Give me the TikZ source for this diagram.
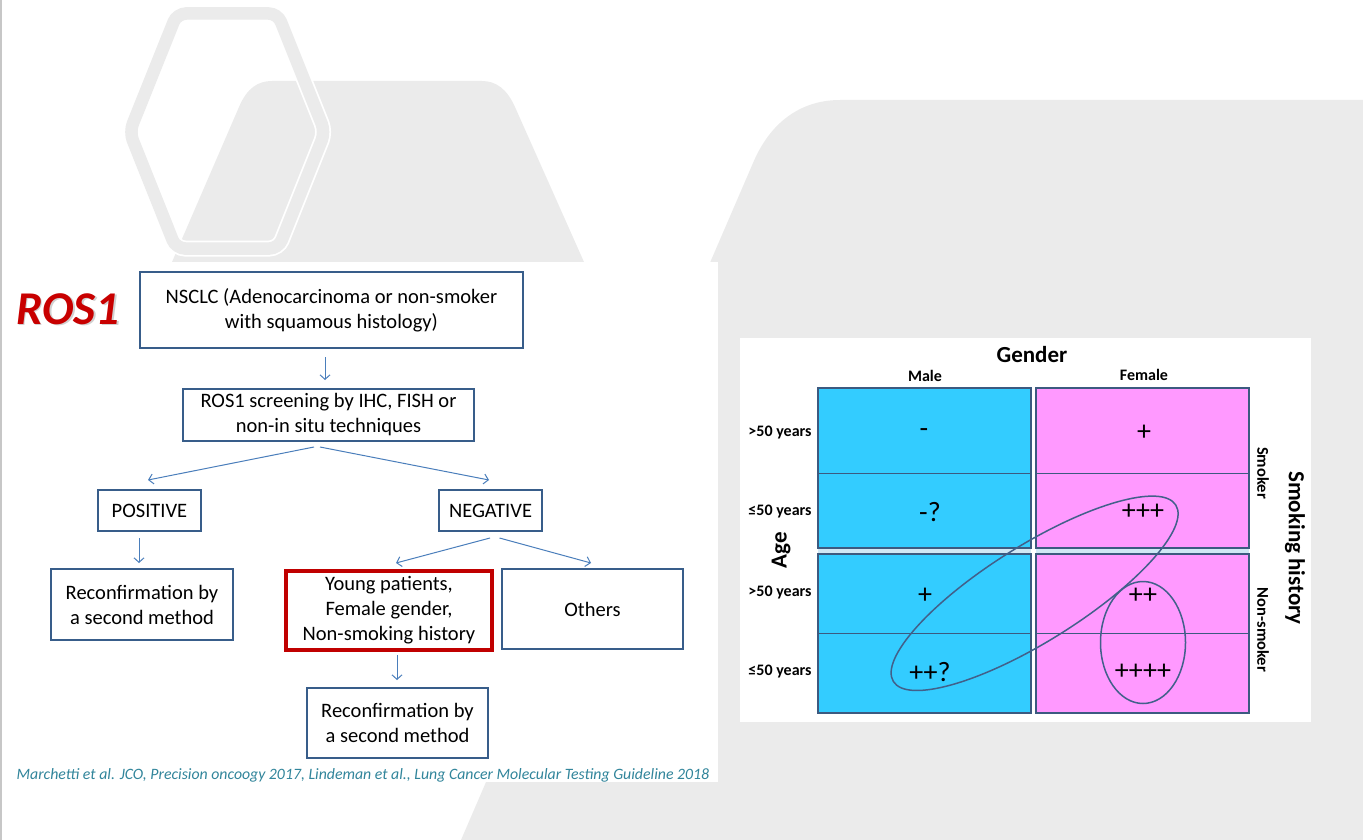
\documentclass[tikz,border=0pt]{standalone}
\usepackage{fontspec}
\setmainfont{Carlito}
\usetikzlibrary{arrows.meta,positioning}
\definecolor{boxblue}{RGB}{56,93,138}
\definecolor{arrowblue}{RGB}{74,126,187}
\definecolor{rosred}{RGB}{200,0,0}
\definecolor{darkred}{RGB}{192,0,0}
\definecolor{citeteal}{RGB}{49,133,155}
\definecolor{bggray}{RGB}{235,235,235}
\definecolor{malecyan}{RGB}{51,204,255}
\definecolor{femalepink}{RGB}{255,153,255}
\definecolor{gapblue}{RGB}{208,232,245}
\definecolor{cellline}{RGB}{60,90,128}
\definecolor{loopline}{RGB}{66,96,138}
\tikzset{
  box/.style={draw=boxblue, line width=2, fill=white, align=center, inner sep=0pt,
    font=\fontsize{20.5}{25}\selectfont},
  arr/.style={arrowblue, line width=1, -{Straight Barb[length=4.5pt,width=10pt]}},
  rowlab/.style={font=\fontsize{16}{16}\selectfont\bfseries},
  headlab/.style={font=\fontsize{23}{23}\selectfont\bfseries},
  celltxt/.style={font=\fontsize{28}{28}\selectfont},
  loop/.style={loopline, line width=1.5}
}

\begin{document}
\begin{tikzpicture}[x=1pt,y=-1pt]
      \useasboundingbox (0,0) rectangle (1363,840);
      % background
      \fill[bggray] (461,840) -- (753,163) .. controls (772,118) and (805,100) .. (840,100)
        -- (1363,100) -- (1363,840) -- cycle;
      \fill[bggray] (172,262) -- (239,107) .. controls (247,88) and (258,81) .. (272,81)
        -- (482,81) .. controls (496,81) and (507,89) .. (515,107) -- (584,262) -- cycle;
      \draw[white, line width=16, rounded corners=9] (177,13.5) -- (277.6,13.5) -- (325,132)
        -- (278.4,248.5) -- (176,248.5) -- (129.5,132) -- cycle;
      \draw[bggray, line width=12.5, rounded corners=9] (177,13.5) -- (277.6,13.5) -- (325,132)
        -- (278.4,248.5) -- (176,248.5) -- (129.5,132) -- cycle;
      \fill[white] (2,262) rectangle (718,782);
      \fill[white] (740,338) rectangle (1311,722);
      \draw[black!22, line width=1.5] (1,0) -- (1,840);

      % flowchart
      \node[text=black!18, font=\fontsize{47}{47}\selectfont\bfseries\itshape] (rosshadow) at (69.5,310.5) {ROS1};
      \node[text=rosred, font=\fontsize{47}{47}\selectfont\bfseries\itshape] (ros) at (68,309) {ROS1};
      \node[box, minimum width=383, minimum height=76] (nsclc) at (331.5,310)
        {NSCLC (Adenocarcinoma or non-smoker\\with squamous histology)};
      \node[box, minimum width=291, minimum height=52] (screen) at (328.5,415)
        {ROS1 screening by IHC, FISH or\\non-in situ techniques};
      \node[box, minimum width=103, minimum height=41] (pos) at (149.5,510.5) {POSITIVE};
      \node[box, minimum width=103, minimum height=41] (neg) at (490.5,510.5) {NEGATIVE};
      \node[box, minimum width=182, minimum height=71] (reconfA) at (142,604.5)
        {Reconfirmation by\\a second method};
      \node[box, draw=darkred, line width=4, minimum width=206, minimum height=79] (young) at (389,610.5)
        {Young patients,\\Female gender,\\Non-smoking history};
      \node[box, minimum width=181, minimum height=80] (others) at (592.5,609) {Others};
      \node[box, minimum width=181, minimum height=70] (reconfB) at (397.5,723)
        {Reconfirmation by\\a second method};
      \draw[arr] ([xshift=-6.5pt,yshift=-8pt]nsclc.south) -- ([xshift=-3.5pt,yshift=8pt]screen.north);
      \draw[arr] ([xshift=-14.5pt,yshift=-5pt]screen.south) -- ([xshift=-1.5pt,yshift=9pt]pos.north);
      \draw[arr] ([xshift=-8.5pt,yshift=-5pt]screen.south) -- ([xshift=-1.5pt,yshift=9pt]neg.north);
      \draw[arr] ([xshift=-10.5pt,yshift=-6pt]pos.south) -- ([xshift=-3pt,yshift=5pt]reconfA.north);
      \draw[arr] ([xshift=-0.5pt,yshift=-6pt]neg.south) -- ([xshift=7pt,yshift=6pt]young.north);
      \draw[arr] ([xshift=9pt,yshift=-6pt]neg.south) -- ([xshift=-1.5pt,yshift=5pt]others.north);
      \draw[arr] ([xshift=8pt,yshift=-3pt]young.south) -- ([xshift=-0.5pt,yshift=7pt]reconfB.north);
      \node[anchor=base west, inner sep=0pt, text=citeteal, font=\fontsize{15.8}{18}\selectfont\itshape] (cite) at (16.5,779)
        {Marchetti et al. JCO, Precision oncoogy 2017, Lindeman et al., Lung Cancer Molecular Testing Guideline 2018};

      % table
      \foreach \x/\c in {818/malecyan,1036/femalepink} {
        \fill[\c] (\x,388) rectangle ++(213,325);
        \fill[gapblue] (\x,548) rectangle ++(213,6);
        \draw[cellline, line width=1.5] (\x,388) rectangle ++(213,160);
        \draw[cellline, line width=1.5] (\x,554) rectangle ++(213,159);
        \draw[cellline, line width=0.9] (\x,473) -- ++(213,0);
        \draw[cellline, line width=0.9] (\x,633) -- ++(213,0);
      }
      \node[headlab] (gender) at (1032,355) {Gender};
      \node[rowlab] (male) at (925,376) {Male};
      \node[rowlab] (female) at (1144,375) {Female};
      \node[rowlab] (ageA) at (780,433) {>50 years};
      \node[rowlab] (ageB) at (780,512) {≤50 years};
      \node[rowlab] (ageC) at (780,593) {>50 years};
      \node[rowlab] (ageD) at (780,672) {≤50 years};
      \node[headlab, rotate=90] (age) at (781,550) {Age};
      \node[rowlab, font=\fontsize{16.5}{16}\selectfont\bfseries, rotate=-90] (smoker) at (1263,473) {Smoker};
      \node[rowlab, font=\fontsize{16.5}{16}\selectfont\bfseries, rotate=-90] (nonsmoker) at (1263,630) {Non-smoker};
      \node[headlab, rotate=-90] (smoking) at (1295,548) {Smoking history};
      \node[celltxt] (mA) at (924,433) {-};
      \node[celltxt] (fA) at (1144,433) {+};
      \node[celltxt] (mB) at (930,512) {-?};
      \node[celltxt] (fB) at (1143,512) {+++};
      \node[celltxt] (mC) at (925,596) {+};
      \node[celltxt] (fC) at (1143,596) {++};
      \node[celltxt] (mD) at (930,672) {++?};
      \node[celltxt] (fD) at (1143,672) {++++};
      \draw[loop, rotate around={32:(1034.6,593.3)}] (1034.6,593.3) ellipse [x radius=166.5, y radius=48];
      \draw[loop] (1143,642.5) ellipse [x radius=42.5, y radius=61];
\end{tikzpicture}
\end{document}
